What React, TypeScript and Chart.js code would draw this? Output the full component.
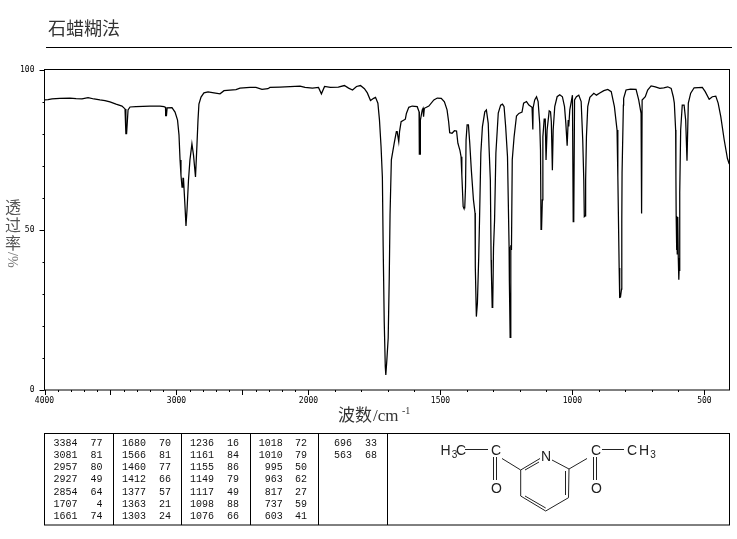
import React, { useEffect, useRef } from "react";
import { Chart, registerables } from "chart.js";

Chart.register(...registerables);

const wavenumbers = [
  4000, 3973, 3943, 3883, 3807, 3761, 3716, 3670, 3625, 3580, 3542, 3504, 3458, 3413, 3390, 3384, 3383, 3378, 3367, 3352,
  3307, 3201, 3125, 3095, 3083, 3082, 3076, 3071, 3034, 3011, 2992, 2981, 2973, 2966, 2958, 2951, 2947, 2936, 2928, 2920,
  2909, 2898, 2883, 2871, 2856, 2845, 2837, 2830, 2814, 2792, 2761, 2716, 2670, 2640, 2595, 2549, 2519, 2443, 2398, 2352,
  2307, 2292, 2216, 2064, 2026, 1985, 1962, 1951, 1939, 1917, 1887, 1864, 1848, 1833, 1818, 1803, 1788, 1777, 1765, 1753,
  1746, 1737, 1731, 1725, 1720, 1717, 1713, 1709, 1707, 1703, 1698, 1694, 1691, 1686, 1675, 1667, 1664, 1658, 1655, 1649,
  1633, 1629, 1620, 1607, 1588, 1581, 1580, 1577, 1576, 1569, 1566, 1564, 1561, 1544, 1525, 1512, 1497, 1485, 1475, 1469,
  1465, 1456, 1447, 1439, 1434, 1426, 1422, 1419, 1414, 1411, 1408, 1405, 1403, 1399, 1394, 1389, 1383, 1375, 1369, 1368,
  1364, 1360, 1355, 1352, 1347, 1341, 1332, 1326, 1319, 1316, 1311, 1308, 1307, 1304, 1302, 1299, 1295, 1290, 1281, 1272,
  1265, 1259, 1253, 1246, 1240, 1239, 1236, 1234, 1233, 1231, 1228, 1221, 1212, 1203, 1191, 1185, 1174, 1165, 1153, 1150,
  1149, 1143, 1136, 1130, 1124, 1121, 1119, 1117, 1114, 1112, 1107, 1103, 1100, 1096, 1088, 1083, 1080, 1076, 1073, 1067,
  1058, 1048, 1038, 1030, 1025, 1020, 1016, 1014, 1010, 1000, 998, 997, 995, 992, 985, 976, 967, 961, 957, 955,
  952, 950, 947, 942, 934, 919, 909, 898, 881, 866, 853, 841, 831, 828, 823, 821, 818, 814, 813, 812,
  807, 806, 797, 780, 759, 749, 740, 739, 737, 736, 724, 715, 702, 686, 669, 654, 639, 626, 618, 614,
  609, 608, 607, 606, 604, 603, 601, 599, 597, 596, 594, 593, 590, 584, 577, 571, 566, 563, 561, 552,
  539, 508, 497, 482, 470, 457, 448, 438, 425, 413, 406,
];

const transmittance = [
  90.5, 90.6, 90.8, 91.0, 91.1, 90.9, 90.8, 91.2, 90.8, 90.5, 90.3, 89.9, 89.2, 88.6, 87.7, 87.2, 80.0, 80.0, 87.4, 88.3,
  88.4, 88.6, 88.6, 88.4, 88.2, 85.6, 85.6, 88.0, 88.1, 86.7, 84.2, 79.6, 71.8, 67.0, 63.3, 66.0, 66.0, 57.7, 51.2, 56.3,
  65.5, 71.8, 76.8, 73.3, 66.5, 76.4, 84.2, 89.2, 91.4, 92.7, 93.0, 92.7, 92.4, 93.4, 93.6, 93.7, 94.2, 94.4, 94.4, 93.8,
  94.0, 94.4, 94.5, 94.8, 94.4, 94.2, 94.4, 92.4, 94.7, 94.4, 94.5, 95.0, 94.2, 93.6, 94.7, 95.0, 94.0, 92.7, 90.3, 91.0,
  91.3, 89.5, 84.2, 75.9, 66.4, 44.7, 21.3, 7.3, 4.7, 9.4, 16.2, 34.9, 54.6, 71.8, 77.1, 80.6, 80.6, 77.5, 80.6, 83.7,
  84.5, 86.3, 88.2, 88.6, 88.4, 86.8, 73.6, 73.6, 84.2, 87.4, 87.9, 85.3, 87.9, 88.6, 90.5, 91.1, 91.0, 89.9, 87.4, 83.7,
  80.3, 80.1, 80.9, 80.8, 77.0, 74.7, 72.8, 67.1, 57.2, 56.7, 56.8, 63.4, 78.0, 82.7, 82.7, 77.0, 68.6, 59.3, 55.2, 38.5,
  22.9, 27.1, 41.6, 53.0, 73.9, 82.2, 86.8, 87.4, 83.2, 75.9, 65.5, 40.6, 36.6, 25.8, 25.9, 44.3, 53.0, 73.9, 86.4, 88.9,
  89.2, 88.4, 82.2, 72.8, 44.7, 34.3, 16.4, 17.8, 45.2, 43.7, 71.8, 79.0, 85.5, 86.3, 86.7, 89.5, 90.0, 88.9, 88.2, 81.3,
  88.0, 90.5, 91.5, 90.0, 83.2, 74.9, 50.1, 50.2, 59.3, 79.0, 84.5, 84.5, 71.8, 81.1, 87.1, 86.8, 83.7, 68.6, 81.1, 88.4,
  91.5, 92.1, 91.5, 88.4, 83.2, 76.2, 84.2, 82.2, 87.4, 92.0, 92.0, 52.5, 52.7, 90.5, 91.5, 92.0, 90.0, 78.0, 65.5, 54.1,
  54.3, 65.5, 79.0, 88.4, 91.3, 92.6, 92.0, 92.6, 93.4, 93.8, 93.1, 88.4, 81.1, 66.6, 38.1, 28.9, 29.0, 31.5, 53.0, 67.7,
  88.9, 91.0, 93.6, 93.9, 93.8, 90.5, 86.3, 55.1, 55.2, 90.5, 91.5, 93.6, 94.9, 94.6, 94.1, 94.3, 94.6, 94.1, 91.5, 89.5,
  81.1, 66.6, 54.3, 43.7, 54.0, 42.5, 54.0, 41.2, 34.4, 37.3, 52.1, 61.5, 81.1, 88.9, 88.9, 84.2, 71.5, 71.5, 89.5, 92.6,
  94.3, 94.4, 93.1, 90.7, 91.5, 91.7, 89.5, 85.3, 78.0, 72.3, 70.5,
];

const xTickWavenumbers = [
  4000, 3900, 3800, 3700, 3600, 3500, 3400, 3300, 3200, 3100, 3000, 2900, 2800, 2700, 2600, 2500, 2400, 2300, 2200, 2100,
  2000, 1900, 1800, 1700, 1600, 1500, 1400, 1300, 1200, 1100, 1000, 900, 800, 700, 600, 500,
];
const xLabelled = [4000, 3000, 2000, 1500, 1000, 500];
const yTicks = [0, 10, 20, 30, 40, 50, 60, 70, 80, 90, 100];
const yLabelled = [0, 50, 100];

const tableColumns: [string, string][][] = [
  [["3384", "77"], ["3081", "81"], ["2957", "80"], ["2927", "49"], ["2854", "64"], ["1707", "4"], ["1661", "74"]],
  [["1680", "70"], ["1566", "81"], ["1460", "77"], ["1412", "66"], ["1377", "57"], ["1363", "21"], ["1303", "24"]],
  [["1236", "16"], ["1161", "84"], ["1155", "86"], ["1149", "79"], ["1117", "49"], ["1098", "88"], ["1076", "66"]],
  [["1018", "72"], ["1010", "79"], ["995", "50"], ["963", "62"], ["817", "27"], ["737", "59"], ["603", "41"]],
  [["696", "33"], ["563", "68"]],
];

const tableRight = [[77.5, 102.5], [146, 171], [214, 239], [282.7, 307], [352, 377]];
const tableDividers = [113.5, 181.5, 250.5, 318.5, 387.5];

// The axis is twice as wide per wavenumber below 2000 cm-1.
const axisPos = (w: number) => (w >= 2000 ? 4000 - w : 2000 + (2000 - w) * 2);
const posToWave = (p: number) => (p <= 2000 ? 4000 - p : 2000 - (p - 2000) / 2);

const framePlugin = {
  id: "frame",
  afterDraw(chart: any) {
    const { ctx, chartArea: a, scales } = chart;
    ctx.save();
    ctx.strokeStyle = "#000";
    ctx.lineWidth = 1;
    ctx.strokeRect(a.left, a.top, a.right - a.left, a.bottom - a.top);
    ctx.beginPath();
    xTickWavenumbers.forEach((w) => {
      const x = Math.round(scales.x.getPixelForValue(axisPos(w))) + 0.5;
      ctx.moveTo(x, a.bottom);
      ctx.lineTo(x, a.bottom + (w % 500 === 0 ? 5 : 2));
    });
    yTicks.forEach((v) => {
      const y = Math.round(scales.y.getPixelForValue(v)) + 0.5;
      ctx.moveTo(a.left, y);
      ctx.lineTo(a.left - (v % 50 === 0 ? 5 : 2), y);
    });
    ctx.stroke();
    ctx.restore();
  },
};

export default function App() {
  const ref = useRef<HTMLCanvasElement>(null);

  useEffect(() => {
    const chart = new Chart(ref.current as HTMLCanvasElement, {
      type: "scatter",
      data: {
        datasets: [
          {
            data: wavenumbers.map((w, i) => ({ x: axisPos(w), y: transmittance[i] })),
            showLine: true,
            borderColor: "#000",
            borderWidth: 1.25,
            pointRadius: 0,
            tension: 0,
          },
        ],
      },
      options: {
        animation: false,
        responsive: false,
        devicePixelRatio: 1,
        layout: { padding: { left: 0, top: 69.5, right: 7.5, bottom: 124 } },
        plugins: { legend: { display: false }, tooltip: { enabled: false } },
        scales: {
          x: {
            type: "linear",
            min: 0,
            max: 5190,
            border: { display: false },
            grid: { display: false, drawTicks: false },
            afterBuildTicks(scale: any) {
              scale.ticks = xLabelled.map((w) => ({ value: axisPos(w) }));
            },
            afterFit(scale: any) {
              scale.height = 25;
            },
            ticks: {
              autoSkip: false,
              maxRotation: 0,
              padding: 6,
              color: "#000",
              font: { family: "'DejaVu Sans Mono'", size: 8 },
              callback: (v: any) => String(Math.round(posToWave(Number(v)))),
            },
          },
          y: {
            min: 0,
            max: 100,
            border: { display: false },
            grid: { display: false, drawTicks: false },
            afterBuildTicks(scale: any) {
              scale.ticks = yLabelled.map((v) => ({ value: v }));
            },
            afterFit(scale: any) {
              scale.width = 44.5;
            },
            ticks: {
              padding: 10,
              color: "#000",
              font: { family: "'DejaVu Sans Mono'", size: 8 },
            },
          },
        },
      },
      plugins: [framePlugin],
    } as any);
    return () => chart.destroy();
  }, []);

  const mono = "'Liberation Mono', monospace";
  const chem = "'Liberation Sans', sans-serif";
  const cjk = "'Noto Sans CJK SC', sans-serif";

  return (
    <div style={{ position: "absolute", left: 0, top: 0, width: 737, height: 539, background: "#fff" }}>
      <canvas ref={ref} width={737} height={539} style={{ position: "absolute", left: 0, top: 0, display: "block" }} />
      <svg width={737} height={539} style={{ position: "absolute", left: 0, top: 0 }}>
        <text x={48} y={35} fontFamily={cjk} fontSize={18} fill="#333">石蜡糊法</text>
        <line x1={46} x2={732} y1={47.5} y2={47.5} stroke="#000" />

        <text x={5} y={213} fontFamily={cjk} fontSize={16} fill="#555">透</text>
        <text x={5} y={231} fontFamily={cjk} fontSize={16} fill="#555">过</text>
        <text x={5} y={249} fontFamily={cjk} fontSize={16} fill="#555">率</text>
        <text transform="translate(8,252) rotate(90)" fontFamily="'Liberation Serif', serif" fontSize={14} fill="#777">/%</text>

        <text x={338} y={421} fontFamily={cjk} fontSize={17} fill="#333">波数</text>
        <text x={373} y={421} fontFamily="'Liberation Serif', serif" fontSize={17} fill="#333">/cm</text>
        <text x={402} y={414} fontFamily="'Liberation Serif', serif" fontSize={10} fill="#333">-1</text>

        <rect x={44.5} y={433.5} width={685} height={91.5} fill="none" stroke="#000" />
        {tableDividers.map((x) => (
          <line key={x} x1={x} x2={x} y1={433.5} y2={525} stroke="#000" />
        ))}
        {tableColumns.map((col, c) =>
          col.map((row, r) => (
            <g key={`${c}-${r}`} fontFamily={mono} fontSize={10} fill="#111" textAnchor="end">
              <text x={tableRight[c][0]} y={445.5 + r * 12.3}>{row[0]}</text>
              <text x={tableRight[c][1]} y={445.5 + r * 12.3}>{row[1]}</text>
            </g>
          ))
        )}

        <g stroke="#222" strokeWidth={1} fill="none">
          <line x1={465} y1={449.5} x2={488} y2={449.5} />
          <line x1={493.5} y1={457} x2={493.5} y2={480} />
          <line x1={496.5} y1={457} x2={496.5} y2={480} />
          <line x1={502} y1={458.5} x2={520.7} y2={470} />
          <line x1={520.7} y1={470} x2={540} y2={458.5} />
          <line x1={525} y1={470} x2={539} y2={462} />
          <line x1={520.7} y1={470} x2={520.7} y2={496} />
          <line x1={520.7} y1={496} x2={545.7} y2={511} />
          <line x1={525} y1={496} x2={545.7} y2={508} />
          <line x1={545.7} y1={511} x2={568.5} y2={497.7} />
          <line x1={568.5} y1={497.7} x2={569} y2={469} />
          <line x1={565.5} y1={495} x2={565.5} y2={471} />
          <line x1={552} y1={460} x2={569} y2={469} />
          <line x1={569} y1={469} x2={587} y2={458.5} />
          <line x1={593.5} y1={457} x2={593.5} y2={480} />
          <line x1={596.5} y1={457} x2={596.5} y2={480} />
          <line x1={602} y1={449.5} x2={624} y2={449.5} />
        </g>
        <g fontFamily={chem} fontSize={14} fill="#222" textAnchor="middle">
          <text x={445.5} y={455}>H</text>
          <text x={454.5} y={458} fontSize={10}>3</text>
          <text x={461} y={455}>C</text>
          <text x={496} y={455}>C</text>
          <text x={496.5} y={493}>O</text>
          <text x={546} y={461}>N</text>
          <text x={596} y={455}>C</text>
          <text x={596.5} y={493}>O</text>
          <text x={632} y={455}>C</text>
          <text x={644} y={455}>H</text>
          <text x={653} y={458} fontSize={10}>3</text>
        </g>
      </svg>
    </div>
  );
}
